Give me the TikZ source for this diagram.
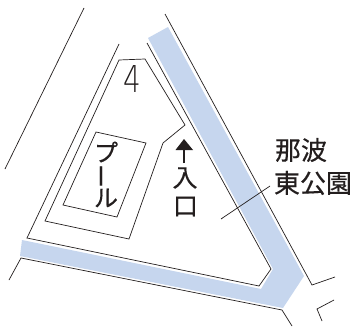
\documentclass[tikz,border=0pt]{standalone}
\usepackage{fontspec}
\setmainfont{Noto Sans CJK JP}
\newfontfamily\medfont{Noto Sans CJK JP}[FakeBold=0.35]
\newfontfamily\thinfont{DejaVu Sans ExtraLight}
\definecolor{band}{RGB}{198,214,238}
\definecolor{ink}{RGB}{35,30,30}
\tikzset{
  ln/.style={draw=ink,line width=0.7pt,line join=miter},
  lbl/.style={inner sep=0pt,text=ink,font=\medfont\fontsize{26}{26}\selectfont},
  sublbl/.style={inner sep=0pt,text=ink,font=\medfont\fontsize{24}{24}\selectfont},
  bandfill/.style={fill=band,draw=none}
}
\begin{document}
\begin{tikzpicture}[x=1pt,y=-1pt]
\useasboundingbox (0,0) rectangle (352,326);
\fill[white] (0,0) rectangle (352,326);
\path[bandfill] (148,38)--(168,27)--(304,276)--(283,308)--(20,256)--(22,240)--(261,289)--(273,269)--cycle;
\draw[ln] (84,8)--(5,169);
\draw[ln] (119,44)--(27,238)--(259,286)--(271,269)--(147,43);
\draw[ln] (119,60)--(145,59)--(185,125)--(163,143)--(129,239)--(45,221)--cycle;
\draw[ln] (96,132)--(146,143)--(117,217)--(63,205)--cycle;
\draw[ln] (165,14)--(312,285)--(335,277);
\draw[ln] (9,280)--(21,258)--(282,310)--(292,326);
\draw[ln] (334,300)--(317,309)--(322,321);
\node[lbl] (lead) at (301,150) {那波};
\node[lbl] (park) at (313,183) {東公園};
\coordinate (la) at (221,219);
\coordinate (lb) at (270,186);
\draw[ln] (la)--(lb);
\node[inner sep=0pt,xscale=0.75,font=\thinfont\fontsize{37}{37}\selectfont,text=ink] (four) at (132.5,79.5) {4};
\node[sublbl] (p1) at (106,152) {プ};
\node[sublbl,rotate=90] (p2) at (105,176) {ー};
\node[sublbl] (p3) at (106,198) {ル};
\node[sublbl,font=\medfont\fontsize{25}{25}\selectfont] (e1) at (185,178) {入};
\node[sublbl,font=\medfont\fontsize{25}{25}\selectfont] (e2) at (185.5,206.5) {口};
\coordinate (ab) at (184,163);
\coordinate (at) at (184,139);
\draw[line width=2.6pt,draw=ink] (ab)--(184,148);
\fill[ink] (at)--(193,150)--(175.5,150)--cycle;
\end{tikzpicture}
\end{document}
